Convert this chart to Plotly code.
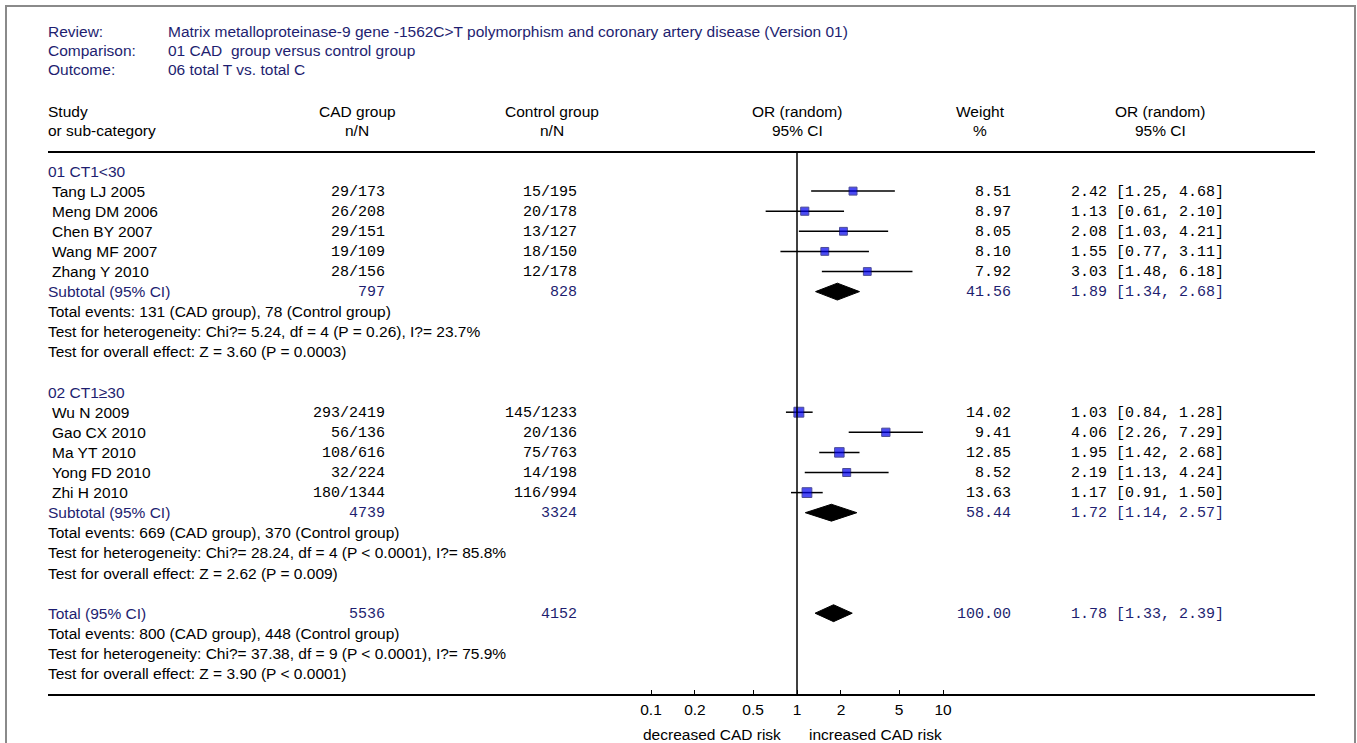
import math
import plotly.graph_objects as go

# ---- data -------------------------------------------------------------
review_text = "Matrix metalloproteinase-9 gene -1562C>T polymorphism and coronary artery disease (Version 01)"
comparison_text = "01 CAD  group versus control group"
outcome_text = "06 total T vs. total C"

group_titles = ["01 CT1<30", "02 CT1\u226530"]

studies_g1 = ["Tang LJ 2005", "Meng DM 2006", "Chen BY 2007", "Wang MF 2007", "Zhang Y 2010"]
cad_g1 = ["29/173", "26/208", "29/151", "19/109", "28/156"]
ctl_g1 = ["15/195", "20/178", "13/127", "18/150", "12/178"]
weight_g1 = [8.51, 8.97, 8.05, 8.10, 7.92]
or_g1 = [2.42, 1.13, 2.08, 1.55, 3.03]
lo_g1 = [1.25, 0.61, 1.03, 0.77, 1.48]
hi_g1 = [4.68, 2.10, 4.21, 3.11, 6.18]

studies_g2 = ["Wu N 2009", "Gao CX 2010", "Ma YT 2010", "Yong FD 2010", "Zhi H 2010"]
cad_g2 = ["293/2419", "56/136", "108/616", "32/224", "180/1344"]
ctl_g2 = ["145/1233", "20/136", "75/763", "14/198", "116/994"]
weight_g2 = [14.02, 9.41, 12.85, 8.52, 13.63]
or_g2 = [1.03, 4.06, 1.95, 2.19, 1.17]
lo_g2 = [0.84, 2.26, 1.42, 1.13, 0.91]
hi_g2 = [1.28, 7.29, 2.68, 4.24, 1.50]

# pooled estimates: subgroup 1, subgroup 2, overall
pooled_labels = ["Subtotal (95% CI)", "Subtotal (95% CI)", "Total (95% CI)"]
pooled_cad_n = [797, 4739, 5536]
pooled_ctl_n = [828, 3324, 4152]
pooled_weight = [41.56, 58.44, 100.00]
pooled_or = [1.89, 1.72, 1.78]
pooled_lo = [1.34, 1.14, 1.33]
pooled_hi = [2.68, 2.57, 2.39]

pooled_notes = [
    ["Total events: 131 (CAD group), 78 (Control group)",
     "Test for heterogeneity: Chi?= 5.24, df = 4 (P = 0.26), I?= 23.7%",
     "Test for overall effect: Z = 3.60 (P = 0.0003)"],
    ["Total events: 669 (CAD group), 370 (Control group)",
     "Test for heterogeneity: Chi?= 28.24, df = 4 (P < 0.0001), I?= 85.8%",
     "Test for overall effect: Z = 2.62 (P = 0.009)"],
    ["Total events: 800 (CAD group), 448 (Control group)",
     "Test for heterogeneity: Chi?= 37.38, df = 9 (P < 0.0001), I?= 75.9%",
     "Test for overall effect: Z = 3.90 (P < 0.0001)"],
]

tick_vals = [0.1, 0.2, 0.5, 1, 2, 5, 10]
tick_text = ["0.1", "0.2", "0.5", "1", "2", "5", "10"]

# ---- layout helpers ---------------------------------------------------
W, H = 1357, 743
NAVY = "#1e1e70"
SANS = "Liberation Sans"
MONO = "Liberation Mono"
SANS_SIZE = 15.5
MONO_SIZE = 15

ROW0_PX = 171.0      # pixel row of first table line
ROW_STEP = 20.1      # pixels per table line
AXIS_PX = 694.0      # pixel row of the bottom axis line
HEADER_LINE_PX = 152.0
LEFT_PX, RIGHT_PX = 48.0, 1315.0
NULL_PX = 797.0      # position of OR = 1
DECADE_PX = 146.0    # pixels per log10 unit

def px(x):
    return x / W

def py(y):
    return 1 - y / H

def row_of_px(y):
    return (y - ROW0_PX) / ROW_STEP

annotations = []

def text(x, y, s, anchor="left", color="black", font=SANS, size=None, yref="paper", dy=0.0):
    if size is None:
        size = MONO_SIZE if font == MONO else SANS_SIZE
    annotations.append(dict(
        x=px(x), y=(py(y) if yref == "paper" else y), xref="paper", yref=yref,
        text=s, showarrow=False, xanchor=anchor, yanchor="middle", yshift=dy,
        font=dict(family=font, size=size, color=color),
    ))

# ---- header block ------------------------------------------------------
for label, value, ypx in [("Review:", review_text, 31), ("Comparison:", comparison_text, 50),
                          ("Outcome:", outcome_text, 69)]:
    text(46, ypx, label, color=NAVY)
    text(166, ypx, value, color=NAVY)

text(46, 112, "Study")
text(46, 131, "or sub-category")
for cx, top, bottom in [(357, "CAD group", "n/N"), (552, "Control group", "n/N"),
                        (797, "OR (random)", "95% CI"), (980, "Weight", "%"),
                        (1160, "OR (random)", "95% CI")]:
    text(cx, 112, top, anchor="center")
    text(cx, 131, bottom, anchor="center")

# ---- table rows --------------------------------------------------------
CAD_RIGHT, CTL_RIGHT, W_RIGHT, CI_LEFT = 387, 579, 1013, 1069
MONO_DY = -1.0   # nudge monospace cells onto the sans-serif baseline

def ci_str(o, l, h):
    return f"{o:.2f} [{l:.2f}, {h:.2f}]"

groups = [
    (studies_g1, cad_g1, ctl_g1, weight_g1, or_g1, lo_g1, hi_g1),
    (studies_g2, cad_g2, ctl_g2, weight_g2, or_g2, lo_g2, hi_g2),
]

study_rows, study_or, study_lo, study_hi, study_w = [], [], [], [], []
pooled_rows = []
r = 0
for gi, (names, cad, ctl, wts, ors, los, his) in enumerate(groups):
    text(46, r, group_titles[gi], color=NAVY, yref="y")
    r += 1
    for i in range(len(names)):
        text(50, r, names[i], yref="y")
        text(CAD_RIGHT, r, cad[i], anchor="right", font=MONO, yref="y", dy=MONO_DY)
        text(CTL_RIGHT, r, ctl[i], anchor="right", font=MONO, yref="y", dy=MONO_DY)
        text(W_RIGHT, r, f"{wts[i]:.2f}", anchor="right", font=MONO, yref="y", dy=MONO_DY)
        text(CI_LEFT, r, ci_str(ors[i], los[i], his[i]), font=MONO, yref="y", dy=MONO_DY)
        study_rows.append(r)
        study_or.append(ors[i])
        study_lo.append(los[i])
        study_hi.append(his[i])
        study_w.append(wts[i])
        r += 1
    pooled_rows.append(r)
    r += 5
pooled_rows.append(r)

for k, pr in enumerate(pooled_rows):
    text(46, pr, pooled_labels[k], color=NAVY, yref="y")
    text(CAD_RIGHT, pr, str(pooled_cad_n[k]), anchor="right", font=MONO, color=NAVY,
         yref="y", dy=MONO_DY)
    text(CTL_RIGHT, pr, str(pooled_ctl_n[k]), anchor="right", font=MONO, color=NAVY,
         yref="y", dy=MONO_DY)
    text(W_RIGHT, pr, f"{pooled_weight[k]:.2f}", anchor="right", font=MONO, color=NAVY,
         yref="y", dy=MONO_DY)
    text(CI_LEFT, pr, ci_str(pooled_or[k], pooled_lo[k], pooled_hi[k]), font=MONO,
         color=NAVY, yref="y", dy=MONO_DY)
    for j, note in enumerate(pooled_notes[k]):
        text(46, pr + 1 + j, note, yref="y")

text(712, 734, "decreased CAD risk", anchor="center")
text(876, 734, "increased CAD risk", anchor="center")

# ---- marks -------------------------------------------------------------
fig = go.Figure()

# confidence-interval whiskers
wx, wy = [], []
for rr, l, h in zip(study_rows, study_lo, study_hi):
    wx += [l, h, None]
    wy += [rr, rr, None]
fig.add_trace(go.Scatter(x=wx, y=wy, mode="lines", line=dict(color="black", width=1.5),
                         hoverinfo="skip", showlegend=False))

# study point estimates, box size by weight
fig.add_trace(go.Scatter(
    x=study_or, y=study_rows, mode="markers", showlegend=False,
    marker=dict(symbol="square", color="#0000f0", size=[5 + 0.35 * w for w in study_w],
                line=dict(color="#00006a", width=1)),
))

# pooled diamonds
HALF_H = 0.42
for pr, o, l, h in zip(pooled_rows, pooled_or, pooled_lo, pooled_hi):
    fig.add_trace(go.Scatter(
        x=[l, o, h, o, l], y=[pr, pr - HALF_H, pr, pr + HALF_H, pr],
        mode="lines", fill="toself", fillcolor="black", line=dict(color="black", width=1),
        hoverinfo="skip", showlegend=False,
    ))

# line of no effect
fig.add_trace(go.Scatter(x=[1, 1], y=[row_of_px(HEADER_LINE_PX), row_of_px(AXIS_PX)],
                         mode="lines", line=dict(color="black", width=1.5),
                         hoverinfo="skip", showlegend=False))

# ---- axes --------------------------------------------------------------
x_lo = (LEFT_PX - NULL_PX) / DECADE_PX
x_hi = (RIGHT_PX - NULL_PX) / DECADE_PX

shapes = [
    # header rule
    dict(type="line", xref="paper", yref="paper", x0=px(LEFT_PX), x1=px(RIGHT_PX),
         y0=py(HEADER_LINE_PX), y1=py(HEADER_LINE_PX), line=dict(color="black", width=2)),
    # outer frame
    dict(type="rect", xref="paper", yref="paper", x0=px(6), x1=px(1355),
         y0=py(760), y1=py(6), line=dict(color="#8a8a8a", width=2)),
]

fig.update_layout(
    width=W, height=H,
    margin=dict(l=0, r=0, t=0, b=0),
    paper_bgcolor="white", plot_bgcolor="white",
    showlegend=False,
    annotations=annotations,
    shapes=shapes,
    xaxis=dict(
        type="log", range=[x_lo, x_hi], domain=[px(LEFT_PX), px(RIGHT_PX)],
        tickvals=tick_vals, ticktext=tick_text, ticks="inside", ticklen=4,
        tickcolor="black", tickwidth=1, showgrid=False, zeroline=False,
        showline=True, linecolor="black", linewidth=2,
        tickfont=dict(family=SANS, size=SANS_SIZE, color="black"),
        fixedrange=True,
    ),
    yaxis=dict(
        range=[row_of_px(AXIS_PX), row_of_px(0)], domain=[1 - AXIS_PX / H, 1],
        visible=False, showgrid=False, zeroline=False, fixedrange=True,
    ),
)

fig.write_html("out.html")
